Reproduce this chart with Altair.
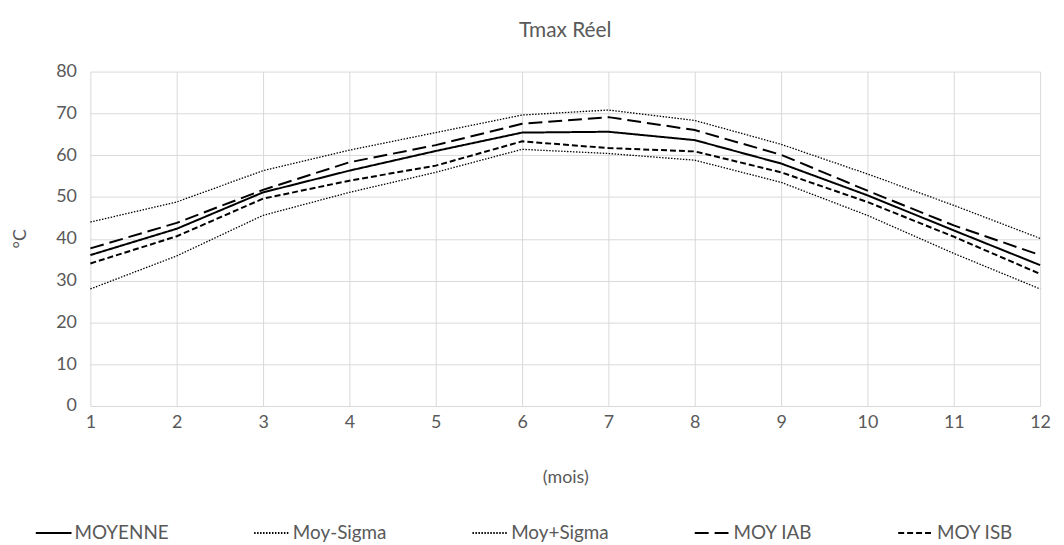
import altair as alt
import pandas as pd

months = list(range(1, 13))
series_names = ["MOYENNE", "Moy-Sigma", "Moy+Sigma", "MOY IAB", "MOY ISB"]
moyenne = [36.1, 42.4, 51.1, 56.3, 61.0, 65.4, 65.6, 63.6, 58.0, 50.4, 42.0, 33.7]
moy_minus_sigma = [28.0, 35.9, 45.6, 51.1, 55.9, 61.4, 60.4, 58.8, 53.5, 45.6, 36.5, 28.0]
moy_plus_sigma = [44.0, 48.8, 56.3, 61.2, 65.4, 69.6, 70.8, 68.3, 62.6, 55.5, 48.0, 40.1]
moy_iab = [37.7, 43.8, 51.7, 58.3, 62.4, 67.5, 69.1, 66.0, 60.1, 51.5, 43.2, 36.1]
moy_isb = [34.1, 40.6, 49.6, 53.9, 57.5, 63.3, 61.7, 60.9, 55.9, 48.8, 40.5, 31.6]

values = [moyenne, moy_minus_sigma, moy_plus_sigma, moy_iab, moy_isb]
rows = []
for name, vals in zip(series_names, values):
    for m, v in zip(months, vals):
        rows.append({"mois": m, "valeur": v, "serie": name})
df = pd.DataFrame(rows)

FONT = "Lato"
GREY = "#595959"

dash_scale = alt.Scale(
    domain=series_names,
    range=[[1, 0], [1.5, 1.5], [1.5, 1.5], [14, 6], [6, 3]],
)

x_enc = alt.X(
    "mois:Q",
    scale=alt.Scale(domain=[1, 12], nice=False),
    axis=alt.Axis(values=months, title="(mois)", grid=True, gridColor="#d9d9d9",
                  domain=False, ticks=False, labelPadding=8, titlePadding=37,
                  labelFlush=False,
                  labelFontSize=18, titleFontSize=18, labelColor=GREY, titleColor=GREY,
                  labelFont=FONT, titleFont=FONT, titleFontWeight="normal"),
)
y_enc = alt.Y(
    "valeur:Q",
    scale=alt.Scale(domain=[0, 80], nice=False),
    axis=alt.Axis(values=list(range(0, 81, 10)), title="°C", grid=True, gridColor="#d9d9d9",
                  domain=False, ticks=False, labelPadding=14, labelFlush=False,
                  labelFontSize=18, titleFontSize=18, labelColor=GREY, titleColor=GREY,
                  labelFont=FONT, titleFont=FONT, titleFontWeight="normal",
                  titleX=-70, titleY=168, titleAngle=270, titleAlign="center",
                  titleBaseline="middle"),
)
dash_enc = alt.StrokeDash(
    "serie:N", scale=dash_scale, sort=series_names,
    legend=alt.Legend(title=None, orient="none", direction="horizontal", columns=5,
                      legendX=-56, legendY=446, columnPadding=82, padding=0,
                      symbolType="stroke", symbolSize=1296, symbolStrokeColor="black",
                      symbolStrokeWidth=2, labelFontSize=19, labelColor=GREY,
                      labelFont=FONT, labelOffset=2, labelLimit=200),
)

base = alt.Chart(df).encode(x=x_enc, y=y_enc, strokeDash=dash_enc,
                            detail="serie:N")

thick = base.transform_filter(
    alt.FieldOneOfPredicate(field="serie", oneOf=["MOYENNE", "MOY IAB", "MOY ISB"])
).mark_line(color="black", strokeWidth=2)
thin = base.transform_filter(
    alt.FieldOneOfPredicate(field="serie", oneOf=["Moy-Sigma", "Moy+Sigma"])
).mark_line(color="black", strokeWidth=1.3)

chart = alt.layer(thin, thick).properties(
    width=957, height=337,
    title=alt.TitleParams("Tmax Réel", fontSize=21, font=FONT, color=GREY,
                          fontWeight="normal", anchor="middle", offset=22),
    autosize=alt.AutoSizeParams(type="none"),
    padding={"left": 83, "top": 62, "right": 16, "bottom": 137},
).configure_view(stroke=None)

chart.save("out.html", embed_options={"renderer": "svg", "actions": False})
